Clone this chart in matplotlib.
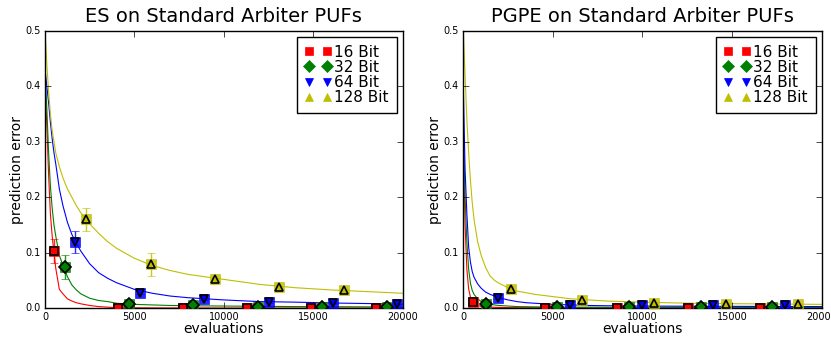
import matplotlib
matplotlib.use("Agg")
import matplotlib.pyplot as plt
from matplotlib.lines import Line2D

plt.style.use("classic")
plt.rcParams["font.family"] = ["DejaVu Sans"]

# ---- shared settings -------------------------------------------------------
labels = ["16 Bit", "32 Bit", "64 Bit", "128 Bit"]
colors = ["r", "g", "b", "y"]
markers = ["s", "D", "v", "^"]

# evaluation grid of the averaged learning curves
curve_x = [0, 100, 200, 300, 400, 500, 600, 800, 1000, 1250, 1500, 1750, 2000,
           2500, 3000, 3500, 4000, 5000, 6000, 7000, 8000, 10000, 12000,
           14000, 16000, 18000, 20000]

# ---- ES --------------------------------------------------------------------
es_curve_16 = [0.40, 0.33, 0.24, 0.17, 0.13, 0.10, 0.072, 0.034, 0.026, 0.017,
               0.013, 0.010, 0.008, 0.005, 0.003, 0.002, 0.0012, 0.0008, 0.0006,
               0.0005, 0.0005, 0.0004, 0.0004, 0.0004, 0.0004, 0.0004, 0.0004]
es_curve_32 = [0.43, 0.36, 0.28, 0.22, 0.18, 0.15, 0.13, 0.095, 0.078, 0.057,
               0.042, 0.033, 0.026, 0.018, 0.014, 0.012, 0.009, 0.007, 0.006,
               0.005, 0.0045, 0.004, 0.0035, 0.003, 0.0028, 0.0025, 0.0023]
es_curve_64 = [0.43, 0.40, 0.37, 0.335, 0.305, 0.28, 0.26, 0.215, 0.185, 0.155,
               0.133, 0.117, 0.103, 0.080, 0.064, 0.054, 0.046, 0.034, 0.027,
               0.022, 0.019, 0.015, 0.012, 0.011, 0.0095, 0.0085, 0.0075]
es_curve_128 = [0.50, 0.44, 0.39, 0.35, 0.32, 0.30, 0.28, 0.255, 0.235, 0.215,
                0.200, 0.185, 0.172, 0.152, 0.135, 0.120, 0.108, 0.090, 0.077,
                0.068, 0.061, 0.052, 0.043, 0.037, 0.033, 0.030, 0.027]

es_mx_16 = [500, 4100, 7700, 11300, 14900, 18500]
es_my_16 = [0.103, 0.001, 0.0005, 0.0005, 0.0005, 0.0005]
es_me_16 = [0.022, 0.001, 0.0005, 0.0005, 0.0005, 0.0005]
es_mx_32 = [1100, 4700, 8300, 11900, 15500, 19100]
es_my_32 = [0.074, 0.008, 0.005, 0.003, 0.002, 0.002]
es_me_32 = [0.022, 0.002, 0.001, 0.001, 0.001, 0.001]
es_mx_64 = [1700, 5300, 8900, 12500, 16100, 19700]
es_my_64 = [0.120, 0.028, 0.016, 0.011, 0.009, 0.007]
es_me_64 = [0.020, 0.003, 0.002, 0.002, 0.001, 0.001]
es_mx_128 = [2300, 5900, 9500, 13100, 16700]
es_my_128 = [0.160, 0.079, 0.052, 0.038, 0.032]
es_me_128 = [0.021, 0.020, 0.003, 0.003, 0.003]

# ---- PGPE ------------------------------------------------------------------
pg_curve_16 = [0.30, 0.15, 0.07, 0.035, 0.020, 0.013, 0.009, 0.005, 0.003,
               0.0025, 0.002, 0.0018, 0.0015, 0.0012, 0.001, 0.001, 0.001,
               0.0009, 0.0009, 0.0008, 0.0008, 0.0008, 0.0008, 0.0008, 0.0008,
               0.0008, 0.0008]
pg_curve_32 = [0.32, 0.20, 0.12, 0.07, 0.045, 0.032, 0.025, 0.017, 0.012,
               0.009, 0.007, 0.006, 0.005, 0.004, 0.003, 0.0028, 0.0025, 0.0022,
               0.002, 0.002, 0.0018, 0.0018, 0.0017, 0.0017, 0.0016, 0.0016,
               0.0015]
pg_curve_64 = [0.40, 0.25, 0.17, 0.11, 0.083, 0.066, 0.056, 0.044, 0.036,
               0.029, 0.025, 0.022, 0.019, 0.015, 0.012, 0.010, 0.009, 0.007,
               0.006, 0.005, 0.0045, 0.004, 0.0037, 0.0035, 0.0033, 0.0031,
               0.003]
pg_curve_128 = [0.50, 0.42, 0.34, 0.28, 0.23, 0.19, 0.16, 0.12, 0.095, 0.073,
                0.058, 0.050, 0.045, 0.037, 0.031, 0.028, 0.025, 0.021, 0.017,
                0.015, 0.013, 0.011, 0.0095, 0.0085, 0.008, 0.0075, 0.007]

pg_mx_16 = [550, 4550, 8550, 12550, 16550]
pg_my_16 = [0.011, 0.001, 0.001, 0.001, 0.001]
pg_me_16 = [0.001, 0.0005, 0.0005, 0.0005, 0.0005]
pg_mx_32 = [1250, 5250, 9250, 13250, 17250]
pg_my_32 = [0.008, 0.002, 0.002, 0.002, 0.002]
pg_me_32 = [0.001, 0.0005, 0.0005, 0.0005, 0.0005]
pg_mx_64 = [1950, 5950, 9950, 13950, 17950]
pg_my_64 = [0.018, 0.006, 0.005, 0.005, 0.005]
pg_me_64 = [0.002, 0.001, 0.001, 0.001, 0.001]
pg_mx_128 = [2650, 6650, 10650, 14650, 18650]
pg_my_128 = [0.035, 0.014, 0.009, 0.008, 0.007]
pg_me_128 = [0.003, 0.002, 0.001, 0.001, 0.001]

panels = [
    ("ES on Standard Arbiter PUFs",
     [es_curve_16, es_curve_32, es_curve_64, es_curve_128],
     [(es_mx_16, es_my_16, es_me_16), (es_mx_32, es_my_32, es_me_32),
      (es_mx_64, es_my_64, es_me_64), (es_mx_128, es_my_128, es_me_128)]),
    ("PGPE on Standard Arbiter PUFs",
     [pg_curve_16, pg_curve_32, pg_curve_64, pg_curve_128],
     [(pg_mx_16, pg_my_16, pg_me_16), (pg_mx_32, pg_my_32, pg_me_32),
      (pg_mx_64, pg_my_64, pg_me_64), (pg_mx_128, pg_my_128, pg_me_128)]),
]

fig = plt.figure(figsize=(8.31, 3.38), dpi=100, facecolor="white")
axes_rects = [[0.0542, 0.088, 0.4304, 0.821], [0.5575, 0.088, 0.4313, 0.821]]

for rect, (title, curves, marks) in zip(axes_rects, panels):
    ax = fig.add_axes(rect)
    ax.set_facecolor("white")
    for curve, (mx, my, me), c, m in zip(curves, marks, colors, markers):
        ax.plot(curve_x, curve, "-", color=c, lw=0.8, zorder=2)
        ax.errorbar(mx, my, yerr=me, fmt="s", color=c, ecolor=c, mec=c,
                    ms=7.5, capsize=3, elinewidth=1.0, alpha=0.85, zorder=3)
        ax.plot(mx, my, ls="none", marker=m, color=c, mec="k", mew=1.2,
                ms=6, zorder=4)
    ax.set_xlim(0, 20000)
    ax.set_ylim(0, 0.5)
    ax.set_xticks([0, 5000, 10000, 15000, 20000])
    ax.set_yticks([0.0, 0.1, 0.2, 0.3, 0.4, 0.5])
    ax.set_yticklabels(["0.0", "0.1", "0.2", "0.3", "0.4", "0.5"])
    ax.tick_params(labelsize=7, direction="in", top=True, right=True,
                   pad=3)
    ax.set_title(title, fontsize=14, pad=6)
    ax.set_xlabel("evaluations", fontsize=10, labelpad=0)
    ax.set_ylabel("prediction error", fontsize=10, labelpad=1)

    handles = [Line2D([], [], ls="none", marker=m, color=c, mec=c, ms=6)
               for c, m in zip(colors, markers)]
    leg = ax.legend(handles, labels, loc="upper right", numpoints=2,
                    fontsize=11, frameon=True, fancybox=False,
                    borderaxespad=0.4, labelspacing=0.02,
                    handlelength=1.76, handletextpad=0.18, borderpad=0.5)
    leg.get_frame().set_edgecolor("black")
    leg.get_frame().set_linewidth(1.0)

fig.savefig("out.png", dpi=100, facecolor="white")
